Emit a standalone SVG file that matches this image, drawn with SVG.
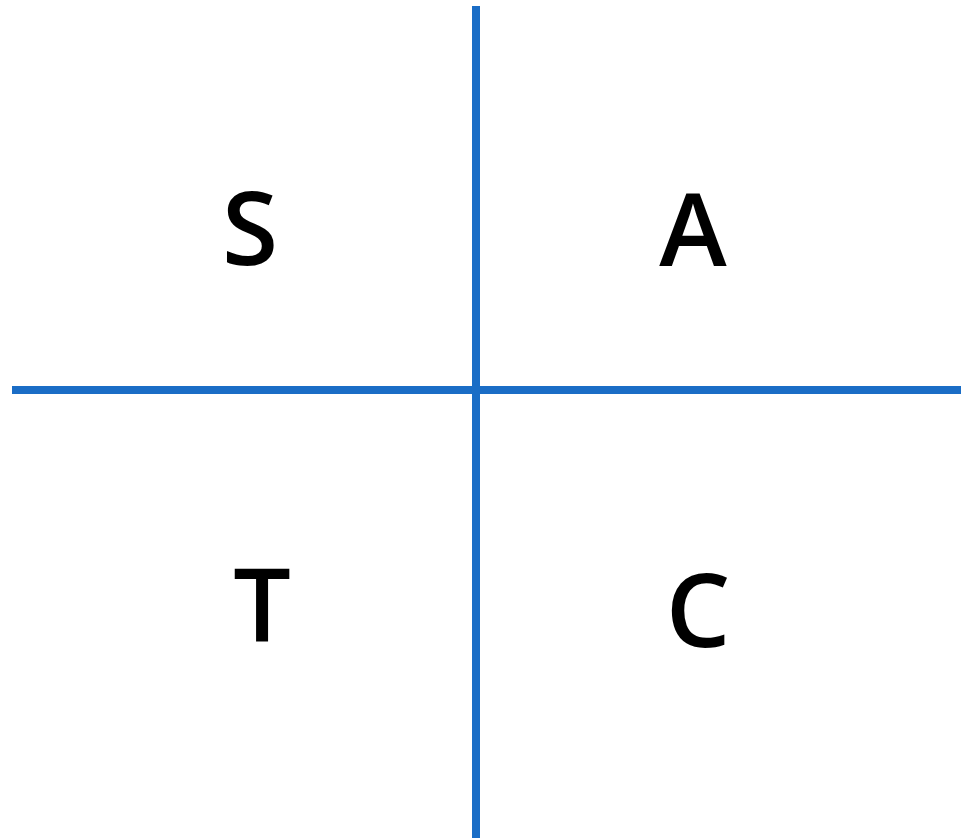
<svg xmlns="http://www.w3.org/2000/svg" width="961" height="838" viewBox="0 0 961 838">
<style>
.ax{stroke:#1a6dc6;stroke-width:8;fill:none}
.lbl{font-family:"Open Sans","Noto Sans","DejaVu Sans",sans-serif;font-weight:600;font-size:102px;fill:#000;text-anchor:middle}
</style>
<rect width="961" height="838" fill="#fff"/>
<g id="connectors">
<line class="ax" x1="476" y1="6" x2="476" y2="838"/>
<line class="ax" x1="12" y1="390" x2="961" y2="390"/>
</g>
<g id="S"><text class="lbl" x="250" y="265">S</text></g>
<g id="A"><text class="lbl" x="693" y="266">A</text></g>
<g id="T"><text class="lbl" x="262" y="641">T</text></g>
<g id="C"><text class="lbl" x="698" y="647">C</text></g>
</svg>
